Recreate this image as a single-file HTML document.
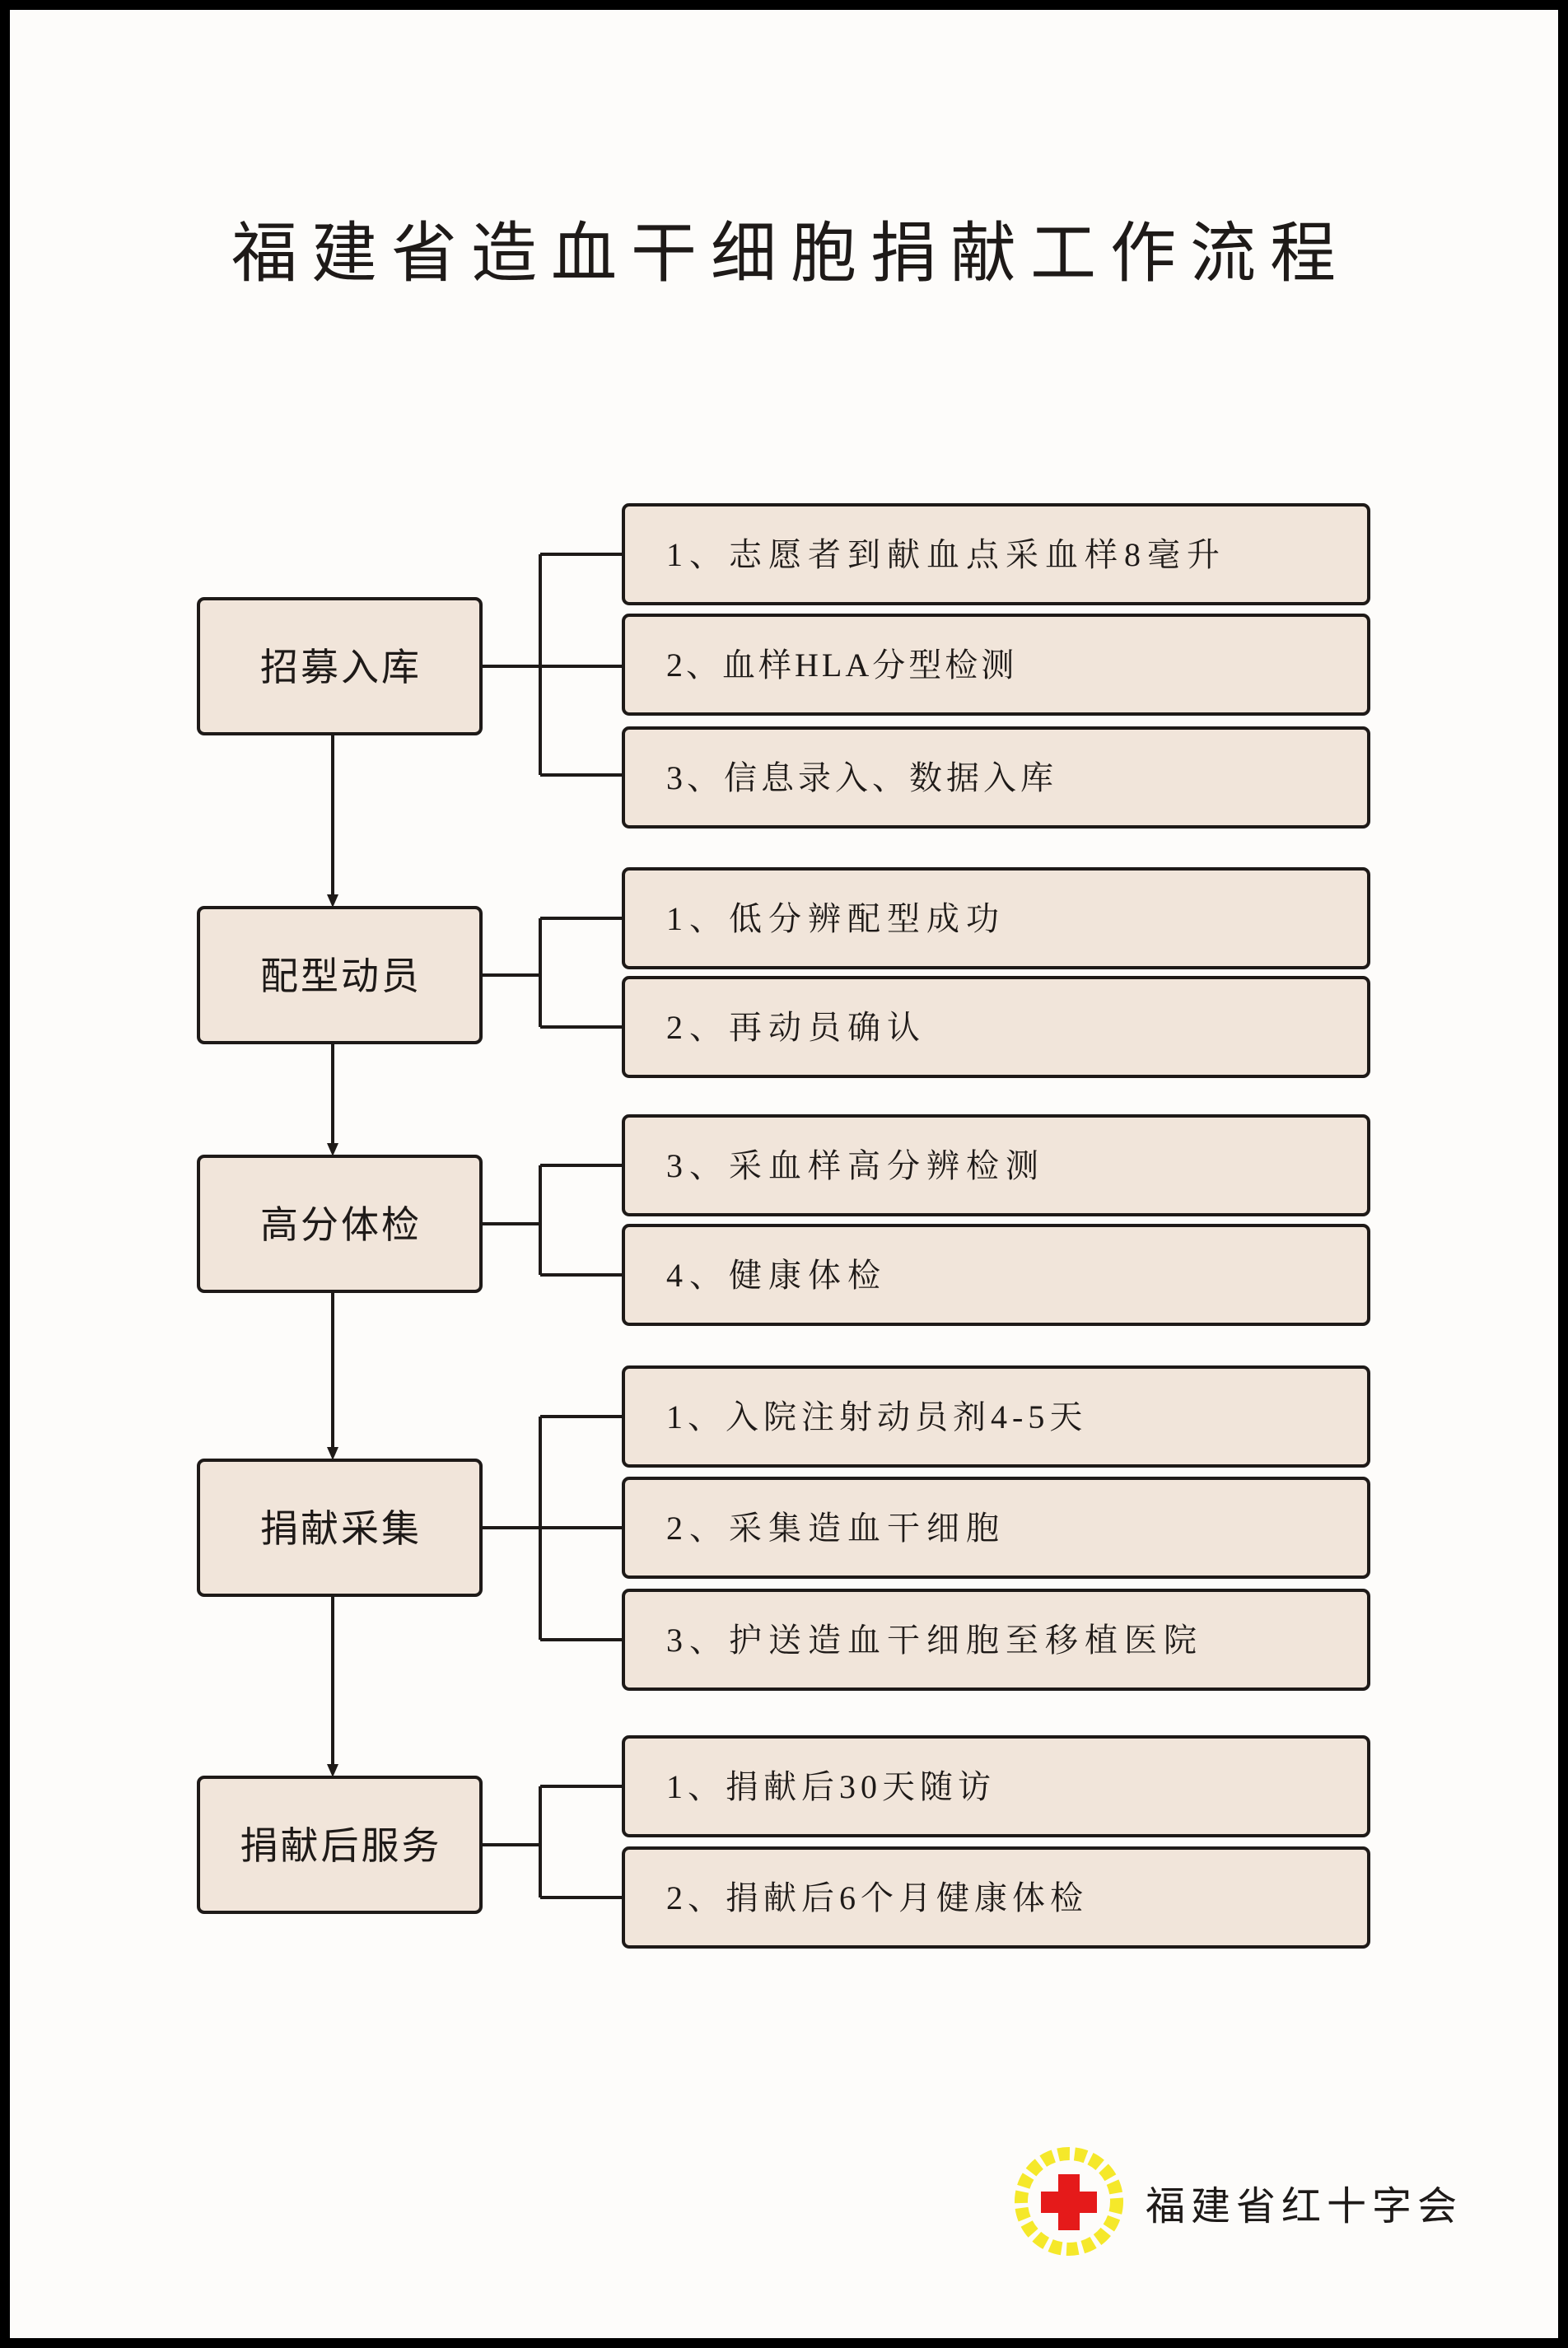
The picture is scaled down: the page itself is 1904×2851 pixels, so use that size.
<!DOCTYPE html>
<html><head><meta charset="utf-8"><style>
html,body{margin:0;padding:0;background:#000;}
svg{display:block;}
text{font-family:"Liberation Sans","Noto Sans CJK SC",sans-serif;fill:#1e1a18;}
.s{font-family:"Liberation Serif","Noto Serif CJK SC",serif;}
</style></head><body>
<svg width="1904" height="2851" viewBox="0 0 1904 2851" xmlns="http://www.w3.org/2000/svg">
<defs>
<marker id="ar" markerWidth="16" markerHeight="16" refX="8" refY="8" orient="auto" markerUnits="userSpaceOnUse">
<path d="M0,1 L16,8 L0,15 z" fill="#1e1a18"/></marker>
</defs>
<rect x="0" y="0" width="1904" height="2851" fill="#000"/>
<rect x="12" y="12" width="1880" height="2827" fill="#fdfcfa"/>
<text x="960" y="335" font-size="80" text-anchor="middle" letter-spacing="17">福建省造血干细胞捐献工作流程</text>

<g stroke="#1e1a18" stroke-width="4" fill="none">
<line x1="404" y1="891" x2="404" y2="1094" marker-end="url(#ar)"/>
<line x1="404" y1="1266" x2="404" y2="1396" marker-end="url(#ar)"/>
<line x1="404" y1="1568" x2="404" y2="1765" marker-end="url(#ar)"/>
<line x1="404" y1="1937" x2="404" y2="2150" marker-end="url(#ar)"/>
<path d="M584,809 H756 M656,673 V941 M656,673 H756 M656,941 H756"/>
<path d="M584,1184 H656 M656,1115 V1247 M656,1115 H756 M656,1247 H756"/>
<path d="M584,1486 H656 M656,1415 V1548 M656,1415 H756 M656,1548 H756"/>
<path d="M584,1855 H756 M656,1720 V1991 M656,1720 H756 M656,1991 H756"/>
<path d="M584,2240 H656 M656,2169 V2304 M656,2169 H756 M656,2304 H756"/>
</g>

<g fill="#f1e5da" stroke="#1e1a18" stroke-width="4">
<rect x="241" y="727" width="343" height="164" rx="7"/>
<rect x="241" y="1102" width="343" height="164" rx="7"/>
<rect x="241" y="1404" width="343" height="164" rx="7"/>
<rect x="241" y="1773" width="343" height="164" rx="7"/>
<rect x="241" y="2158" width="343" height="164" rx="7"/>
<rect x="757" y="613" width="905" height="120" rx="7"/>
<rect x="757" y="747" width="905" height="120" rx="7"/>
<rect x="757" y="884" width="905" height="120" rx="7"/>
<rect x="757" y="1055" width="905" height="120" rx="7"/>
<rect x="757" y="1187" width="905" height="120" rx="7"/>
<rect x="757" y="1355" width="905" height="120" rx="7"/>
<rect x="757" y="1488" width="905" height="120" rx="7"/>
<rect x="757" y="1660" width="905" height="120" rx="7"/>
<rect x="757" y="1795" width="905" height="120" rx="7"/>
<rect x="757" y="1931" width="905" height="120" rx="7"/>
<rect x="757" y="2109" width="905" height="120" rx="7"/>
<rect x="757" y="2244" width="905" height="120" rx="7"/>
</g>

<g font-size="46" text-anchor="middle" letter-spacing="3">
<text x="414" y="826">招募入库</text>
<text x="414" y="1201">配型动员</text>
<text x="414" y="1503">高分体检</text>
<text x="414" y="1872">捐献采集</text>
<text x="414" y="2257">捐献后服务</text>
</g>
<g font-size="40" letter-spacing="8" class="s">
<text class="s" x="809" y="687">1、志愿者到献血点采血样8毫升</text>
<text class="s" x="809" y="821" letter-spacing="4">2、血样HLA分型检测</text>
<text class="s" x="809" y="958" letter-spacing="5">3、信息录入、数据入库</text>
<text class="s" x="809" y="1129">1、低分辨配型成功</text>
<text class="s" x="809" y="1261">2、再动员确认</text>
<text class="s" x="809" y="1429">3、采血样高分辨检测</text>
<text class="s" x="809" y="1562">4、健康体检</text>
<text class="s" x="809" y="1734" letter-spacing="6">1、入院注射动员剂4-5天</text>
<text class="s" x="809" y="1869">2、采集造血干细胞</text>
<text class="s" x="809" y="2005">3、护送造血干细胞至移植医院</text>
<text class="s" x="809" y="2183" letter-spacing="6">1、捐献后30天随访</text>
<text class="s" x="809" y="2318" letter-spacing="6">2、捐献后6个月健康体检</text>
</g>

<circle cx="1298" cy="2673" r="58" fill="none" stroke="#f5e82a" stroke-width="16" stroke-dasharray="14 6"/>
<rect x="1285" y="2640" width="26" height="68" fill="#e51a1a"/>
<rect x="1264" y="2661" width="68" height="26" fill="#e51a1a"/>
<text x="1391" y="2695" font-size="48" letter-spacing="7">福建省红十字会</text>
</svg>
</body></html>
